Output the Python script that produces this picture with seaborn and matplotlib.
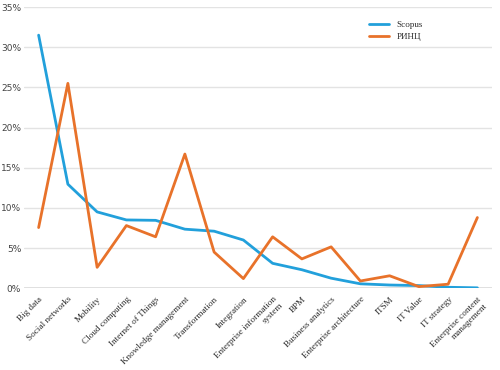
import matplotlib
matplotlib.use("Agg")
import matplotlib.pyplot as plt
import seaborn as sns
import pandas as pd
from matplotlib.ticker import FuncFormatter

categories = ["Big data", "Social networks", "Mobility", "Cloud computing",
              "Internet of Things", "Knowledge management", "Transformation",
              "Integration", "Enterprise information\nsystem", "BPM",
              "Business analytics", "Enterprise architecture", "ITSM",
              "IT Value", "IT strategy", "Enterprise content\nmanagement"]
scopus = [31.5, 12.95, 9.5, 8.5, 8.45, 7.35, 7.1, 6.0, 3.1, 2.3, 1.25, 0.55,
          0.4, 0.33, 0.12, 0.05]
rinc = [7.55, 25.5, 2.6, 7.8, 6.4, 16.7, 4.5, 1.2, 6.4, 3.65, 5.15, 0.9,
        1.55, 0.2, 0.5, 8.8]
series_names = ["Scopus", "РИНЦ"]
colors = ["#22a0db", "#e8722a"]

df = pd.concat([
    pd.DataFrame({"cat": categories, "val": [v / 100 for v in scopus], "src": series_names[0]}),
    pd.DataFrame({"cat": categories, "val": [v / 100 for v in rinc], "src": series_names[1]}),
])

sns.set_theme(style="white")
fig = plt.figure(figsize=(5, 3.7), dpi=100)
ax = fig.add_axes([0.048, 0.221, 0.936, 0.76])
sns.lineplot(data=df, x="cat", y="val", hue="src", palette=colors, sort=False,
             linewidth=2.0, ax=ax)

ax.set_ylim(0, 0.35)
ax.set_xlim(-0.5, len(categories) - 0.5)
ax.set_yticks([0, 0.05, 0.10, 0.15, 0.20, 0.25, 0.30, 0.35])
ax.yaxis.set_major_formatter(FuncFormatter(lambda v, p: f"{round(v*100)}%"))
ax.grid(axis="y", color="#e3e3e3", linewidth=1)
ax.axhline(0, color="#dddddd", linewidth=2, zorder=0)
for s in ax.spines.values():
    s.set_visible(False)
ax.set_xlabel("")
ax.set_ylabel("")
ax.tick_params(axis="y", labelsize=6.5, colors="#444444", pad=2, length=0)
ax.tick_params(axis="x", length=0, pad=5)
ax.set_xticks(range(len(categories)))
ax.set_xticklabels(categories, rotation=45, ha="right", rotation_mode="anchor",
                   fontsize=6.6, family="Liberation Serif", color="#2a2a2a",
                   multialignment="right")

leg = ax.legend(frameon=False, loc="upper left", bbox_to_anchor=(0.72, 0.98),
                fontsize=6.6, handlelength=2.2, labelspacing=0.4)
for t in leg.get_texts():
    t.set_family("Liberation Serif")
    t.set_color("#2a2a2a")

fig.savefig("out.png", dpi=100)
